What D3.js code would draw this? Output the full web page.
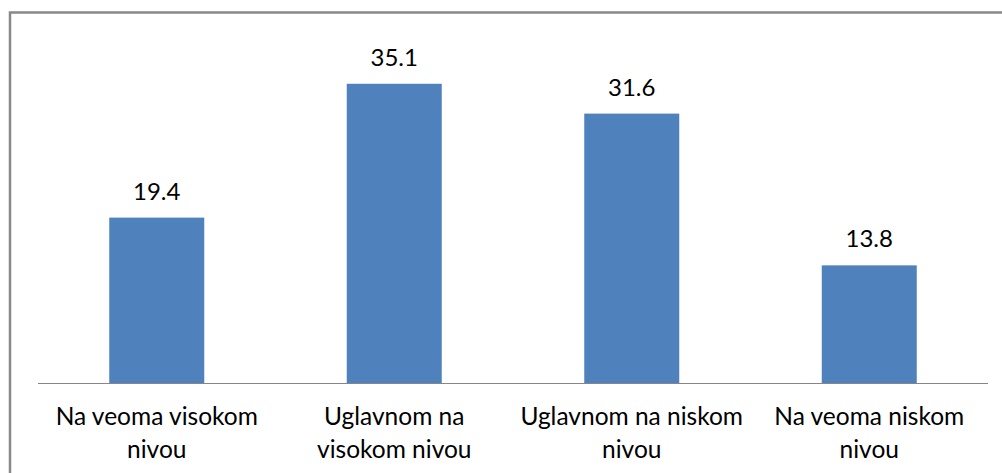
<!DOCTYPE html>
<html>
<head>
<meta charset="utf-8">
<script src="https://cdn.jsdelivr.net/npm/d3@7"></script>
<style>
  body { margin: 0; background: #fff; }
  svg { display: block; }
  text { font-family: Lato, "Open Sans", sans-serif; fill: #000; }
</style>
</head>
<body>
<svg id="chart" width="1002" height="473"></svg>
<script>
// data
var categories = [
  ["Na veoma visokom", "nivou"],
  ["Uglavnom na", "visokom nivou"],
  ["Uglavnom na niskom", "nivou"],
  ["Na veoma niskom", "nivou"]
];
var values = [19.4, 35.1, 31.6, 13.8];

var svg = d3.select("#chart"),
    width = 1002,
    height = 473;

var x = d3.scaleBand()
    .domain(d3.range(values.length))
    .range([38, 988])
    .paddingInner(0.6)
    .paddingOuter(0.3);

var y = d3.scaleLinear()
    .domain([0, 40])
    .range([383, 42]);

// outer frame (right and bottom edges fall outside the picture)
svg.append("rect")
    .attr("x", 10)
    .attr("y", 12.5)
    .attr("width", 1010)
    .attr("height", 480)
    .attr("fill", "none")
    .attr("stroke", "#898989")
    .attr("stroke-width", 2.5);

svg.selectAll(".bar")
    .data(values)
  .enter().append("rect")
    .attr("class", "bar")
    .attr("x", function(d, i) { return x(i); })
    .attr("y", function(d) { return y(d); })
    .attr("width", x.bandwidth())
    .attr("height", function(d) { return y(0) - y(d); })
    .attr("fill", "#4f81bd");

// baseline
svg.append("line")
    .attr("x1", x.range()[0])
    .attr("x2", x.range()[1])
    .attr("y1", y(0) + 0.5)
    .attr("y2", y(0) + 0.5)
    .attr("stroke", "#868686")
    .attr("stroke-width", 1);

svg.selectAll(".value")
    .data(values)
  .enter().append("text")
    .attr("class", "value")
    .attr("x", function(d, i) { return x(i) + x.bandwidth() / 2; })
    .attr("y", function(d) { return y(d) - 18; })
    .attr("text-anchor", "middle")
    .style("font-size", "24px")
    .text(function(d) { return d.toFixed(1); });

var label = svg.selectAll(".label")
    .data(categories)
  .enter().append("text")
    .attr("class", "label")
    .attr("text-anchor", "middle")
    .style("font-size", "24.5px");

label.selectAll("tspan")
    .data(function(d, i) { return d.map(function(s) { return {s: s, i: i}; }); })
  .enter().append("tspan")
    .attr("x", function(d) { return x(d.i) + x.bandwidth() / 2; })
    .attr("y", function(d, j) { return 425 + j * 33; })
    .text(function(d) { return d.s; });
</script>
</body>
</html>
